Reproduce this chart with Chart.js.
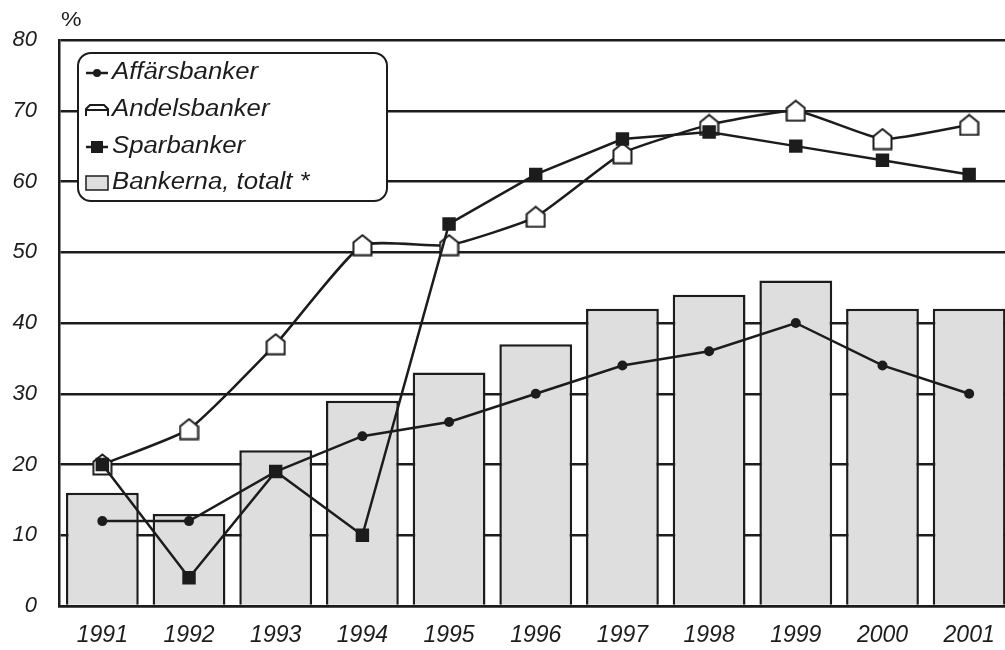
<!DOCTYPE html>
<html>
<head>
<meta charset="utf-8">
<script src="https://cdn.jsdelivr.net/npm/chart.js@4"></script>
<style>
  body { margin: 0; background: #fff; overflow: hidden; }
  #wrap { width: 1005px; height: 650px; overflow: hidden; }
</style>
</head>
<body>
<div id="wrap"><canvas id="grafico" width="1026" height="650"></canvas></div>
<script>
// Datos
const years = ["1991", "1992", "1993", "1994", "1995", "1996", "1997", "1998", "1999", "2000", "2001"];
const affarsbanker = [12, 12, 19, 24, 26, 30, 34, 36, 40, 34, 30];
const andelsbanker = [20, 25, 37, 51, 51, 55, 64, 68, 70, 66, 68];
const sparbanker = [20, 4, 19, 10, 54, 61, 66, 67, 65, 63, 61];
const bankernaTotalt = [16, 13, 22, 29, 33, 37, 42, 44, 46, 42, 42];
const yTicks = [0, 10, 20, 30, 40, 50, 60, 70, 80];

const ink = "#1c1c1c";
const barFill = "#dedede";
const fontFam = "'Liberation Sans', Arial, sans-serif";

// pentágono tipo "casa" para Andelsbanker
function houseMarker(w, h) {
  const c = document.createElement("canvas");
  c.width = w; c.height = h;
  const g = c.getContext("2d");
  g.beginPath();
  g.moveTo(w / 2, 1.5);
  g.lineTo(w - 1.5, h * 0.38);
  g.lineTo(w - 1.5, h - 1.5);
  g.lineTo(1.5, h - 1.5);
  g.lineTo(1.5, h * 0.38);
  g.closePath();
  g.fillStyle = "#fff";
  g.fill();
  g.lineWidth = 2;
  g.strokeStyle = ink;
  g.stroke();
  return c;
}
const house = houseMarker(21, 23);

// texto algo ensanchado, como en el original
function wideText(ctx, txt, x, y, sx) {
  ctx.save();
  ctx.translate(x, y);
  ctx.scale(sx, 1);
  ctx.fillText(txt, 0, 0);
  ctx.restore();
}

// leyenda dibujada a mano con caja redondeada
const legendBox = {
  id: "legendBox",
  afterDatasetsDraw(chart) {
    const ctx = chart.ctx;
    const x = 78, y = 53, w = 309, h = 148, r = 13;
    ctx.save();
    ctx.beginPath();
    ctx.roundRect(x, y, w, h, r);
    ctx.fillStyle = "#fff";
    ctx.fill();
    ctx.lineWidth = 2;
    ctx.strokeStyle = ink;
    ctx.stroke();

    const rows = [73, 110, 147, 183];
    const labels = chart.data.datasets.map(d => d.label);
    ctx.font = "italic 23px " + fontFam;
    ctx.fillStyle = ink;
    ctx.textBaseline = "middle";
    ctx.textAlign = "left";

    // Affärsbanker
    ctx.lineWidth = 2.5;
    ctx.beginPath(); ctx.moveTo(86, rows[0]); ctx.lineTo(108, rows[0]); ctx.stroke();
    ctx.beginPath(); ctx.arc(97, rows[0], 4, 0, Math.PI * 2); ctx.fill();
    wideText(ctx, labels[0], 112, rows[0], 1.12);

    // Andelsbanker
    ctx.lineWidth = 2;
    ctx.beginPath();
    ctx.moveTo(86, rows[1] + 6); ctx.lineTo(86, rows[1] - 1); ctx.lineTo(90, rows[1] - 5);
    ctx.lineTo(104, rows[1] - 5); ctx.lineTo(108, rows[1] - 1); ctx.lineTo(108, rows[1] + 6);
    ctx.moveTo(86, rows[1]); ctx.lineTo(108, rows[1]);
    ctx.stroke();
    wideText(ctx, labels[1], 112, rows[1], 1.12);

    // Sparbanker
    ctx.lineWidth = 2.5;
    ctx.beginPath(); ctx.moveTo(86, rows[2]); ctx.lineTo(108, rows[2]); ctx.stroke();
    ctx.fillRect(91, rows[2] - 6, 12, 12);
    wideText(ctx, labels[2], 112, rows[2], 1.12);

    // Bankerna, totalt
    ctx.fillStyle = barFill;
    ctx.fillRect(86, rows[3] - 7, 22, 14);
    ctx.lineWidth = 1.5;
    ctx.strokeRect(86, rows[3] - 7, 22, 14);
    ctx.fillStyle = ink;
    wideText(ctx, labels[3], 112, rows[3], 1.12);

    // unidad del eje
    ctx.font = "21px " + fontFam;
    wideText(ctx, "%", 61, 20, 1.1);
    ctx.restore();
  }
};

new Chart(document.getElementById("grafico"), {
  type: "bar",
  data: {
    labels: years,
    datasets: [
      {
        type: "line",
        label: "Affärsbanker",
        data: affarsbanker,
        borderColor: ink,
        backgroundColor: ink,
        borderWidth: 2.5,
        pointStyle: "circle",
        pointRadius: 5,
        pointBorderWidth: 0,
        tension: 0,
        order: 1
      },
      {
        type: "line",
        label: "Andelsbanker",
        data: andelsbanker,
        borderColor: ink,
        backgroundColor: "#fff",
        borderWidth: 2.5,
        pointStyle: house,
        pointRadius: 11,
        tension: 0.15,
        order: 3
      },
      {
        type: "line",
        label: "Sparbanker",
        data: sparbanker,
        borderColor: ink,
        backgroundColor: ink,
        borderWidth: 2.5,
        pointStyle: "rect",
        pointRadius: 9.5,
        pointBorderWidth: 0,
        tension: 0,
        order: 2
      },
      {
        type: "bar",
        label: "Bankerna, totalt *",
        data: bankernaTotalt,
        backgroundColor: barFill,
        borderColor: ink,
        borderWidth: 2.5,
        barPercentage: 0.84,
        categoryPercentage: 1,
        order: 10
      }
    ]
  },
  options: {
    responsive: false,
    animation: false,
    layout: { padding: { top: 40, right: 0, left: 0, bottom: 0 } },
    plugins: {
      legend: { display: false },
      tooltip: { enabled: false }
    },
    scales: {
      x: {
        offset: true,
        grid: { display: false, drawTicks: false },
        border: { display: true, color: ink, width: 2.5 },
        ticks: {
          color: ink,
          font: { family: fontFam, size: 23, style: "italic" },
          padding: 16
        },
        afterFit: (s) => { s.height = 44; }
      },
      y: {
        min: 0,
        max: 80,
        afterBuildTicks: (s) => { s.ticks = yTicks.map(v => ({ value: v })); },
        grid: { color: ink, lineWidth: 2.5, drawTicks: false },
        border: { display: true, color: ink, width: 2.5 },
        ticks: {
          color: ink,
          font: { family: fontFam, size: 22, style: "italic" },
          padding: 22
        },
        afterFit: (s) => { s.width = 59; }
      }
    }
  },
  plugins: [legendBox]
});
</script>
</body>
</html>
